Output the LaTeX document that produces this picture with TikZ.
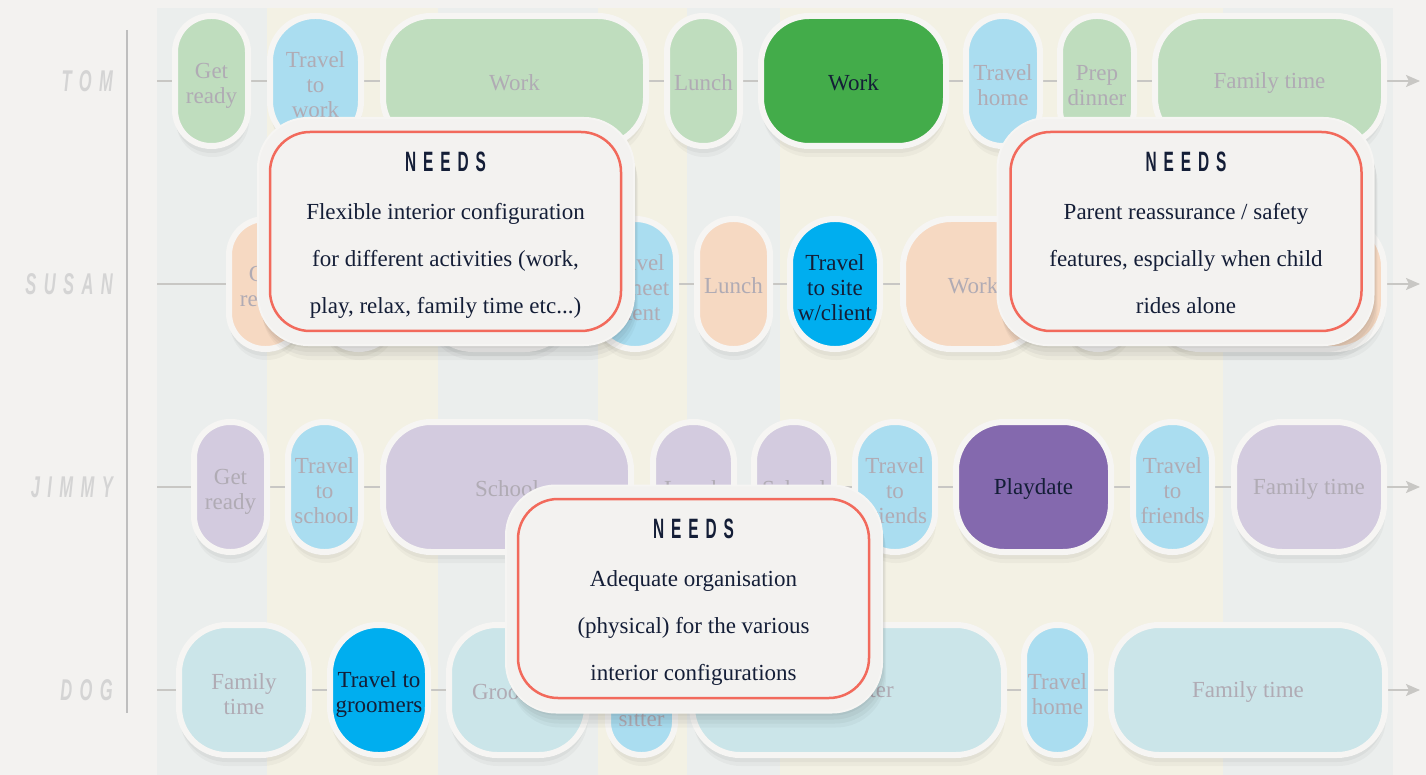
\documentclass[tikz,border=0pt]{standalone}
\usepackage{fontspec}
\setmainfont{Liberation Serif}
\newfontfamily\headfont[LetterSpace=45]{Liberation Sans}
\usepackage{graphicx}
\usetikzlibrary{positioning, arrows.meta}

\definecolor{paper}{RGB}{243,242,240}
\definecolor{rimwhite}{RGB}{246,245,243}
\definecolor{stripeblue}{RGB}{235,238,237}
\definecolor{stripeyellow}{RGB}{243,241,228}
\definecolor{tomgreen}{RGB}{191,221,190}
\definecolor{tomdark}{RGB}{67,172,74}
\definecolor{travelblue}{RGB}{170,221,240}
\definecolor{brightblue}{RGB}{0,174,239}
\definecolor{susanpeach}{RGB}{246,217,194}
\definecolor{jimmylav}{RGB}{211,203,223}
\definecolor{playpurple}{RGB}{132,105,174}
\definecolor{dogteal}{RGB}{203,229,233}
\definecolor{fadedtext}{RGB}{176,171,180}
\definecolor{navy}{RGB}{20,30,55}
\definecolor{needsred}{RGB}{242,106,92}
\definecolor{linegray}{RGB}{200,199,196}
\definecolor{namegray}{RGB}{212,212,212}
\definecolor{axisgray}{RGB}{190,190,190}

\pgfdeclarelayer{stripes}
\pgfdeclarelayer{background}
\pgfsetlayers{stripes,background,main}

\newcommand{\needshead}{\scalebox{0.55}[1]{\fontsize{28}{30}\selectfont\headfont\bfseries NEEDS}}
\newcommand{\personname}[1]{\scalebox{0.55}[1]{\fontsize{30}{32}\selectfont\headfont\bfseries\itshape #1}}
\newcommand{\lift}{\rule{0pt}{24pt}}

\begin{document}
\begin{tikzpicture}[
  x=1pt, y=-1pt,
  softshadow/.style={
    preaction={fill=black, fill opacity=0.035, transform canvas={yshift=-3pt}},
    preaction={fill=black, fill opacity=0.035, transform canvas={yshift=-7pt}},
    preaction={fill=black, fill opacity=0.03, transform canvas={xshift=1pt, yshift=-11pt}}},
  bigshadow/.style={
    preaction={fill=black, fill opacity=0.04, transform canvas={xshift=1pt, yshift=-3pt}},
    preaction={fill=black, fill opacity=0.04, transform canvas={xshift=2pt, yshift=-7pt}},
    preaction={fill=black, fill opacity=0.04, transform canvas={xshift=3pt, yshift=-11pt}},
    preaction={fill=black, fill opacity=0.03, transform canvas={xshift=4pt, yshift=-15pt}}},
  act/.style={draw=rimwhite, line width=6pt, minimum width=#1pt, minimum height=130pt,
    rounded corners={min(48,#1/2-0.5)*1pt}, inner sep=0pt, align=center,
    font=\fontsize{23}{25}\selectfont, text=fadedtext, softshadow,
    execute at begin node={\rule{0pt}{19.5pt}}},
  hot/.style={text=navy},
  rowline/.style={draw=linegray, line width=2pt},
  person/.style={anchor=east, text=namegray, inner sep=0pt},
  needsback/.style={fill=paper, draw=rimwhite, line width=2pt, rounded corners=50pt, minimum width=376pt, minimum height=227pt, bigshadow},
  needsbox/.style={draw=needsred, line width=2.5pt, rounded corners=40pt, minimum width=351pt, minimum height=199pt},
  needstitle/.style={text=navy, inner sep=0pt},
  needstext/.style={text=navy, align=center, inner sep=0pt, font=\fontsize{23}{47}\selectfont}
]
  \useasboundingbox (0,0) rectangle (1426,775);

  % time-of-day bands
  \begin{pgfonlayer}{stripes}
    \fill[paper] (0,0) rectangle (1426,775);
    \fill[stripeblue] (157,8) rectangle (267,775);
    \fill[stripeyellow] (267,8) rectangle (438,775);
    \fill[stripeblue] (438,8) rectangle (598,775);
    \fill[stripeyellow] (598,8) rectangle (687,775);
    \fill[stripeblue] (687,8) rectangle (780,775);
    \fill[stripeyellow] (780,8) rectangle (1223,775);
    \fill[stripeblue] (1223,8) rectangle (1393,775);
  \end{pgfonlayer}

  % people
  \coordinate (axisTop) at (127,30);
  \coordinate (axisBottom) at (127,713);
  \draw[axisgray, line width=2.5pt] (axisTop) -- (axisBottom);
  \node[person] (tomName) at (113,81) {\personname{TOM}};
  \node[person] (susanName) at (113,284) {\personname{SUSAN}};
  \node[person] (jimmyName) at (113,487) {\personname{JIMMY}};
  \node[person] (dogName) at (113,690) {\personname{DOG}};

  % Tom
  \coordinate (tomStart) at (157,81);
  \coordinate (tomEnd) at (1420,81);
  \node[act=73, fill=tomgreen] (tGet) at (211.5,81) {\lift Get\\ready};
  \node[act=91, fill=travelblue] (tTravel) at (315.5,81) {\lift Travel\\to\\work};
  \node[act=263, fill=tomgreen] (tWork) at (514.5,81) {Work};
  \node[act=73, fill=tomgreen] (tLunch) at (703.5,81) {Lunch};
  \node[act=185, fill=tomdark, hot] (tWorkB) at (853.5,81) {Work};
  \node[act=74, fill=travelblue] (tHome) at (1003,81) {\lift Travel\\home};
  \node[act=74, fill=tomgreen] (tPrep) at (1097,81) {\lift Prep\\dinner};
  \node[act=229, fill=tomgreen] (tFamily) at (1269.5,81) {Family time};

  % Susan
  \coordinate (susanStart) at (157,284);
  \coordinate (susanEnd) at (1420,284);
  \node[act=73, fill=susanpeach] (sGet) at (265.5,284) {\lift Get\\ready};
  \node[act=73, fill=travelblue] (sTravel) at (358.5,284) {};
  \node[act=148, fill=susanpeach] (sWork) at (499,284) {};
  \node[act=82, fill=travelblue] (sMeet) at (635,284) {\lift Travel\\to meet\\client};
  \node[act=73, fill=susanpeach] (sLunch) at (733.5,284) {Lunch};
  \node[act=90, fill=brightblue, hot] (sSite) at (835,284) {\lift Travel\\to site\\w/client};
  \node[act=140, fill=susanpeach] (sWorkB) at (973,284) {Work};
  \node[act=66, fill=travelblue] (sHome) at (1098,284) {};
  \node[act=232, fill=susanpeach] (sFamily) at (1268,284) {};

  % Jimmy
  \coordinate (jimmyStart) at (157,487);
  \coordinate (jimmyEnd) at (1420,487);
  \node[act=73, fill=jimmylav] (jGet) at (230.5,487) {\lift Get\\ready};
  \node[act=73, fill=travelblue] (jTravel) at (324.5,487) {\lift Travel\\to\\school};
  \node[act=248, fill=jimmylav] (jSchool) at (507,487) {School};
  \node[act=81, fill=jimmylav] (jLunch) at (693.5,487) {Lunch};
  \node[act=80, fill=jimmylav] (jSchoolB) at (794,487) {School};
  \node[act=80, fill=travelblue] (jFriends) at (895,487) {\lift Travel\\to\\friends};
  \node[act=155, fill=playpurple, hot] (jPlay) at (1033.5,487) {Playdate};
  \node[act=79, fill=travelblue] (jFriendsB) at (1172.5,487) {\lift Travel\\to\\friends};
  \node[act=150, fill=jimmylav] (jFamily) at (1309,487) {Family time};

  % Dog
  \coordinate (dogStart) at (157,690);
  \coordinate (dogEnd) at (1420,690);
  \node[act=130, fill=dogteal] (dFamily) at (244,690) {\lift Family\\time};
  \node[act=98, fill=brightblue, hot] (dGroomTravel) at (379,690) {\lift Travel to\\groomers};
  \node[act=138, fill=dogteal] (dGroom) at (518,690) {Groomers};
  \node[act=67, fill=travelblue] (dSitterTravel) at (641.5,690) {\lift\\ \\sitter};
  \node[act=312, fill=dogteal] (dSitter) at (848,690) {Dog sitter};
  \node[act=67, fill=travelblue] (dHome) at (1057.5,690) {\lift Travel\\home};
  \node[act=274, fill=dogteal] (dFamilyB) at (1248,690) {Family time};

  % timelines
  \begin{pgfonlayer}{background}
    \draw[rowline] (tomStart) -- (tGet) -- (tTravel) -- (tWork) -- (tLunch) -- (tWorkB) -- (tHome) -- (tPrep) -- (tFamily);
    \draw[rowline, -{Stealth[length=14pt, width=12pt, inset=3pt]}] (tFamily) -- (tomEnd);
    \draw[rowline] (susanStart) -- (sGet) -- (sTravel) -- (sWork) -- (sMeet) -- (sLunch) -- (sSite) -- (sWorkB) -- (sHome) -- (sFamily);
    \draw[rowline, -{Stealth[length=14pt, width=12pt, inset=3pt]}] (sFamily) -- (susanEnd);
    \draw[rowline] (jimmyStart) -- (jGet) -- (jTravel) -- (jSchool) -- (jLunch) -- (jSchoolB) -- (jFriends) -- (jPlay) -- (jFriendsB) -- (jFamily);
    \draw[rowline, -{Stealth[length=14pt, width=12pt, inset=3pt]}] (jFamily) -- (jimmyEnd);
    \draw[rowline] (dogStart) -- (dFamily) -- (dGroomTravel) -- (dGroom) -- (dSitterTravel) -- (dSitter) -- (dHome) -- (dFamilyB);
    \draw[rowline, -{Stealth[length=14pt, width=12pt, inset=3pt]}] (dFamilyB) -- (dogEnd);
  \end{pgfonlayer}

  % needs callouts
  \node[needsback] (backTom) at (446,231.5) {};
  \node[needsbox] (needsTom) at (445.5,231.5) {};
  \node[needstitle, below=21pt of needsTom.north] (titleTom) {\needshead};
  \node[needstext, below=31pt of titleTom] (textTom) {Flexible interior configuration\\for different activities (work,\\play, relax, family time etc...)};

  \node[needsback] (backSusan) at (1185.5,231.5) {};
  \node[needsbox] (needsSusan) at (1186,231.5) {};
  \node[needstitle, below=21pt of needsSusan.north] (titleSusan) {\needshead};
  \node[needstext, below=31pt of titleSusan] (textSusan) {Parent reassurance / safety\\features, espcially when child\\rides alone};

  \node[needsback] (backDog) at (694,599) {};
  \node[needsbox] (needsDog) at (693.5,598.5) {};
  \node[needstitle, below=21pt of needsDog.north] (titleDog) {\needshead};
  \node[needstext, below=31pt of titleDog] (textDog) {Adequate organisation\\(physical) for the various\\interior configurations};
\end{tikzpicture}
\end{document}
